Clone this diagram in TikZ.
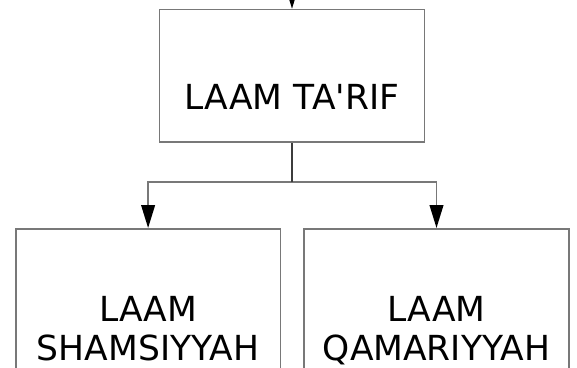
\documentclass[tikz,border=0pt]{standalone}
\usepackage{fontspec}
\setmainfont{DejaVu Sans}
\usetikzlibrary{arrows.meta}
\definecolor{boxgray}{RGB}{120,120,120}
\definecolor{darkline}{RGB}{60,60,60}
\begin{document}
\begin{tikzpicture}[x=1pt,y=1pt,
  box/.style={draw=boxgray, line width=1.7pt, rectangle, inner sep=0pt, minimum width=264.8pt},
  lbl/.style={font=\fontsize{34.5}{38.5}\selectfont, anchor=base, align=center, inner sep=0pt},
  conn/.style={draw=boxgray, line width=1.7pt},
  arr/.style={conn, -{Triangle[length=22.8pt,width=13.6pt,color=black]}},
]
\useasboundingbox (0,0) rectangle (577,-367);
\clip (0,0) rectangle (577,-367);
% boxes
\node[box, minimum height=132.6pt] (top) at (292,-75.9) {};
\node[box, minimum height=220pt, anchor=north] (left) at (148.1,-228) {};
\node[box, minimum height=220pt, anchor=north] (right) at (436.5,-228) {};
% texts
\node[lbl] (toptext) at (292,-109.4) {LAAM TA\textquotesingle RIF};
\node[lbl] (lefttext) at (148.1,-360) {LAAM\\SHAMSIYYAH};
\node[lbl] (righttext) at (436.5,-360) {LAAM\\QAMARIYYAH};
% connectors
\coordinate (in) at (292,40);
\coordinate (split) at (292,-181.8);
\draw[arr] (in) -- (top.north);
\draw[arr] (split) -| (left.north);
\draw[arr] (split) -| (right.north);
\draw[draw=darkline, line width=1.7pt] (top.south) -- (split);
\end{tikzpicture}
\end{document}
